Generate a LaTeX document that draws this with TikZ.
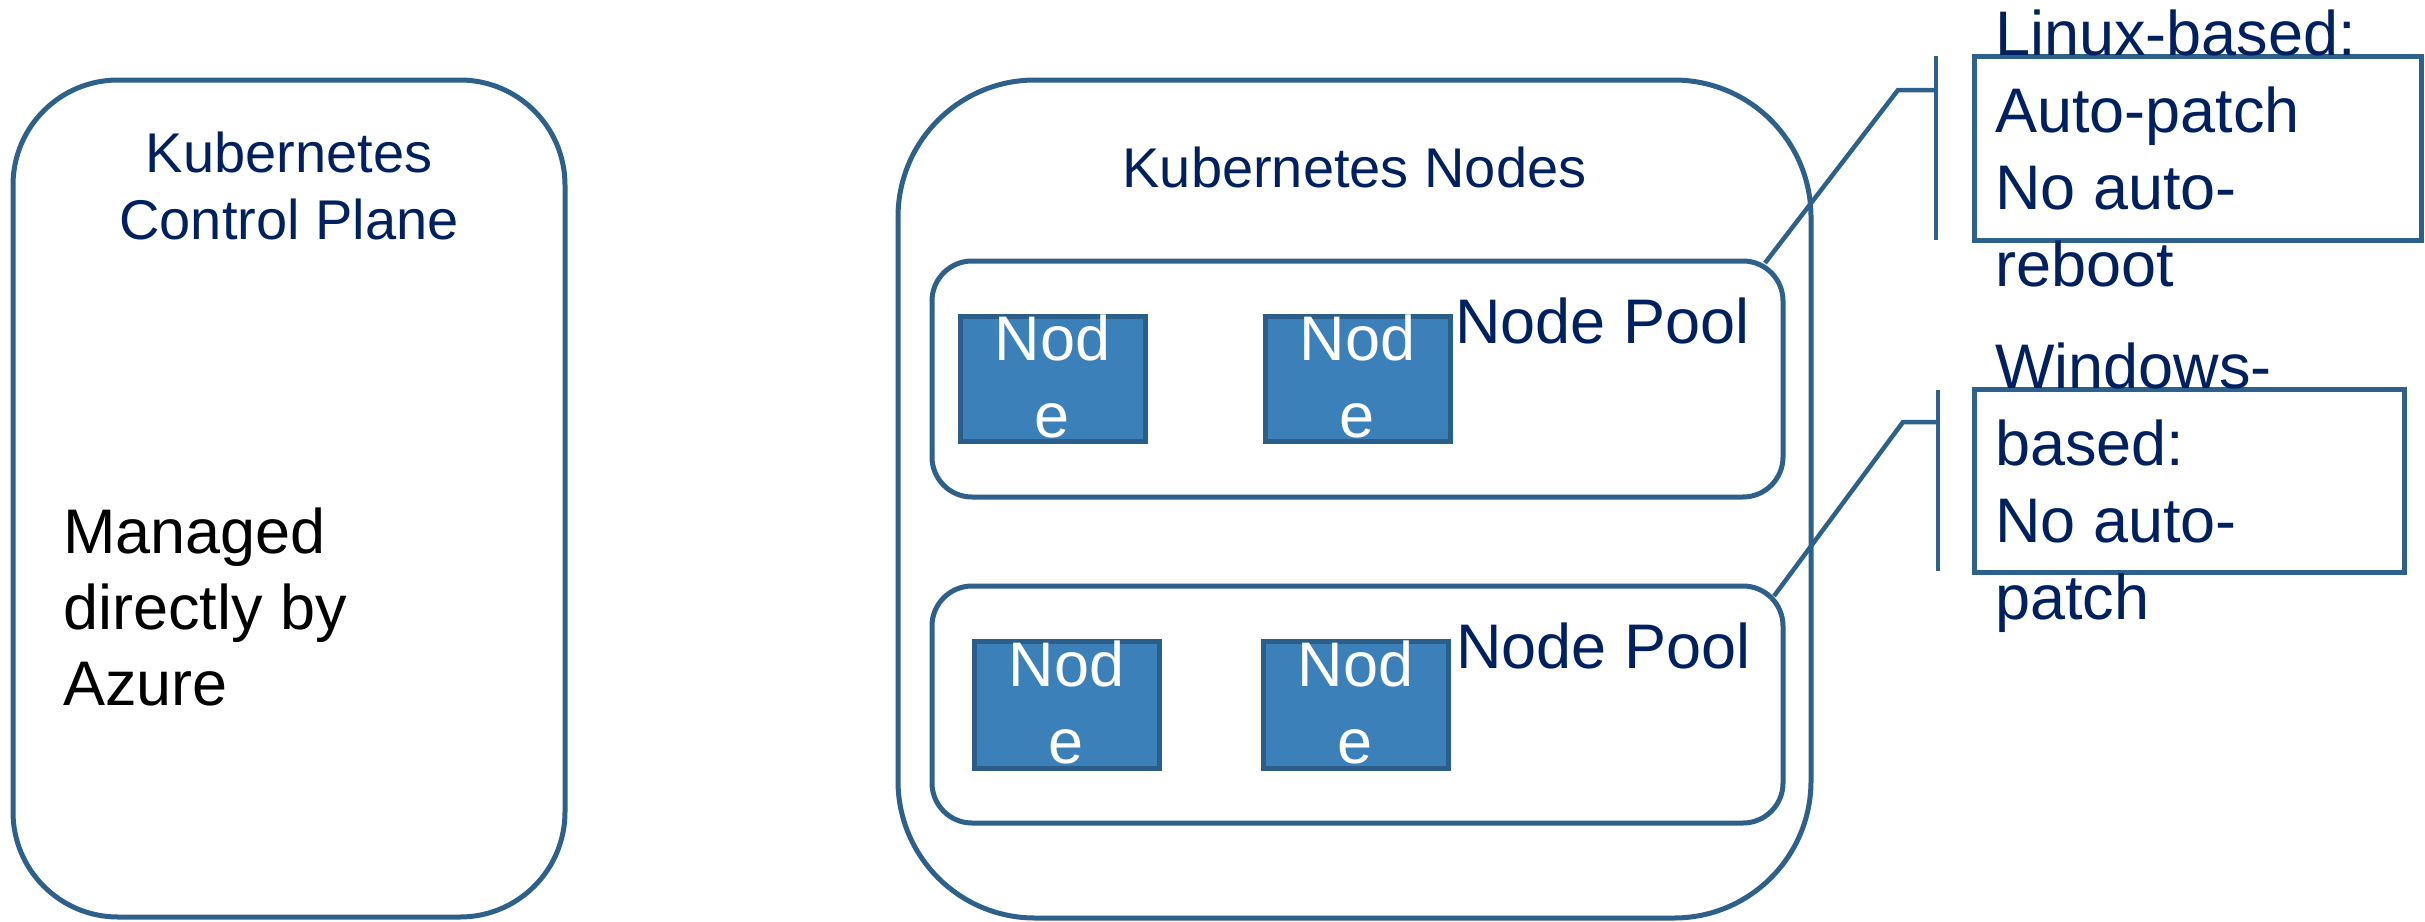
\documentclass[tikz,border=0pt]{standalone}
\usepackage{fontspec}
\setmainfont{Liberation Sans}
\definecolor{navy}{RGB}{0,32,96}
\definecolor{edge}{RGB}{46,96,140}
\definecolor{nodefill}{RGB}{60,128,186}
\definecolor{nodeedge}{RGB}{44,94,138}
\tikzset{
  panel/.style={draw=edge, line width=5pt, inner sep=0pt, fill=white},
  poolbox/.style={panel, rounded corners=40pt, minimum width=851pt},
  vmbox/.style={draw=nodeedge, fill=nodefill, line width=5pt, inner sep=0pt,
    minimum width=185pt},
  vmtext/.style={text=white, anchor=base, align=center, inner sep=0pt,
    font=\fontsize{63pt}{77pt}\selectfont},
  title/.style={text=navy, anchor=base, align=center, inner sep=0pt,
    font=\fontsize{56pt}{67pt}\selectfont},
  bigtext/.style={text=navy, anchor=base west, align=left, inner sep=0pt,
    font=\fontsize{63pt}{77pt}\selectfont},
  notebox/.style={draw=edge, line width=5pt, inner sep=0pt},
  callline/.style={draw=edge, line width=4.5pt},
}
\begin{document}
\begin{tikzpicture}[x=1pt,y=-1pt]
\useasboundingbox (0,0) rectangle (2425,921);

% control plane panel (multi-line texts are placed by their last baseline)
\node[panel, rounded corners=105pt, minimum width=552pt, minimum height=837pt]
  (cp) at (289,498.5) {};
\node[title] (cptitle) at (289,239) {Kubernetes\\Control Plane};
\node[bigtext, text=black, font=\fontsize{63pt}{76pt}\selectfont]
  (managed) at (63,705) {Managed\\directly by\\Azure};

% worker nodes panel
\node[panel, rounded corners=137pt, minimum width=913pt, minimum height=838pt]
  (workers) at (1354.5,499) {};
\node[title] (wtitle) at (1354.5,187) {Kubernetes Nodes};

% first node pool
\node[poolbox, minimum height=236pt] (pool1) at (1357.5,379) {};
\node[bigtext] (pool1label) at (1455,343) {Node Pool};
\node[vmbox, minimum height=125pt] (n11) at (1052.5,378.5) {};
\node[vmbox, minimum height=125pt] (n12) at (1357.5,378.5) {};
\node[vmtext] at ([yshift=-124pt]n11.north) {Nod\\e};
\node[vmtext] at ([yshift=-124pt]n12.north) {Nod\\e};

% second node pool
\node[poolbox, minimum height=237pt] (pool2) at (1357.5,704.5) {};
\node[bigtext] (pool2label) at (1456,668) {Node Pool};
\node[vmbox, minimum height=127pt] (n21) at (1066.5,704.5) {};
\node[vmbox, minimum height=127pt] (n22) at (1355.5,704.5) {};
\node[vmtext] at ([yshift=-125pt]n21.north) {Nod\\e};
\node[vmtext] at ([yshift=-125pt]n22.north) {Nod\\e};

% callout for Linux pools
\node[notebox, minimum width=447pt, minimum height=184pt] (linux) at (2197.5,148) {};
\coordinate (lbartop) at (1936,56);
\coordinate (lbarbot) at (1936,240);
\coordinate (lhook) at (1936,90);
\coordinate (lknee) at (1898,90);
\coordinate (lend) at (1765,263);
\draw[callline] (lbartop) -- (lbarbot);
\draw[callline] (lhook) -- (lknee) -- (lend);
\node[bigtext] (linuxtext) at (1995,286) {Linux-based:\\Auto-patch\\No auto-\\reboot};

% callout for Windows pools
\node[notebox, minimum width=430pt, minimum height=183pt] (windows) at (2189,480.5) {};
\coordinate (wbartop) at (1938,390);
\coordinate (wbarbot) at (1938,571);
\coordinate (whook) at (1938,422);
\coordinate (wknee) at (1903,422);
\coordinate (wend) at (1774,596);
\draw[callline] (wbartop) -- (wbarbot);
\draw[callline] (whook) -- (wknee) -- (wend);
\node[bigtext] (windowstext) at (1995,619) {Windows-\\based:\\No auto-\\patch};
\end{tikzpicture}
\end{document}
